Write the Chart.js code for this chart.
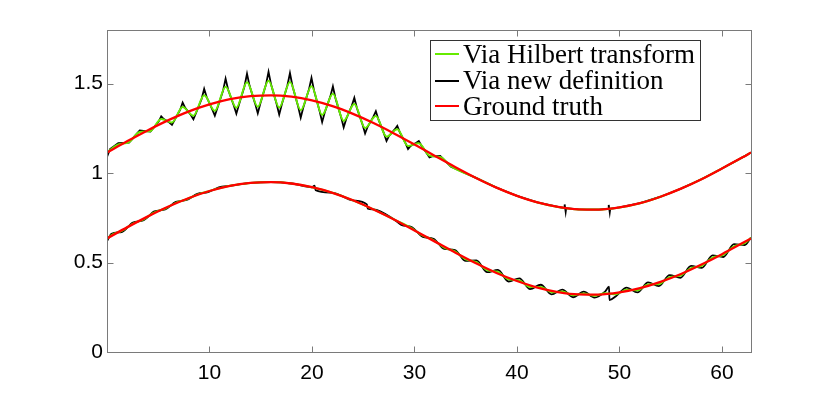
<!DOCTYPE html>
<html><head><meta charset="utf-8">
<script src="https://cdn.jsdelivr.net/npm/chart.js@4.4.1/dist/chart.umd.min.js"></script>
<style>
html,body{margin:0;padding:0;background:#fff;}
#wrap{position:relative;width:830px;height:397px;}
#legend{position:absolute;left:430px;top:40px;width:271px;height:81px;border:1px solid #333;background:#fff;box-sizing:border-box;font-family:"Liberation Serif",serif;color:#000;}
.row{position:absolute;left:0;height:26px;display:flex;align-items:center;white-space:nowrap;}
.sw{display:inline-block;width:24px;height:2px;margin-left:4px;margin-right:4px;}
</style></head><body>
<div id="wrap"><canvas id="c" width="830" height="397"></canvas><div id="legend"></div></div>
<script>
// ---- data ----
const xTicks = [10, 20, 30, 40, 50, 60];
const xTickLabels = ['10', '20', '30', '40', '50', '60'];
const yTicks = [0, 0.5, 1, 1.5];
const yTickLabels = ['0', '0.5', '1', '1.5'];
const seriesNames = ['Via Hilbert transform', 'Via new definition', 'Ground truth'];
const seriesColors = ['rgb(102,235,0)', '#000000', '#ff0000'];

// Ground truth (upper and lower), [x, y]
const upperTruth = [[0,1.115],[2,1.179],[4,1.240],[6,1.296],[8,1.345],[10,1.384],[12,1.413],[14,1.430],[16,1.435],[18,1.427],[20,1.406],[22,1.374],[24,1.331],[26,1.280],[28,1.222],[30,1.160],[32,1.096],[34,1.033],[36,0.973],[38,0.919],[40,0.873],[42,0.836],[44,0.811],[46,0.797],[48,0.796],[50,0.808],[52,0.832],[54,0.868],[56,0.913],[58,0.966],[60,1.026],[62,1.088],[62.83,1.115]];
const lowerTruth = [[0,0.635],[2,0.698],[4,0.758],[6,0.813],[8,0.861],[10,0.900],[12,0.929],[14,0.945],[16,0.950],[18,0.942],[20,0.921],[22,0.890],[24,0.848],[26,0.797],[28,0.741],[30,0.679],[32,0.617],[34,0.555],[36,0.496],[38,0.442],[40,0.397],[42,0.360],[44,0.335],[46,0.322],[48,0.321],[50,0.333],[52,0.357],[54,0.392],[56,0.436],[58,0.489],[60,0.547],[62,0.609],[62.83,0.635]];

// Via Hilbert transform (green)
const upperHilbert = [[0,1.115],[1.10,1.160],[2.15,1.173],[3.19,1.230],[4.24,1.235],[5.29,1.302],[6.34,1.283],[7.38,1.370],[8.43,1.321],[9.48,1.435],[10.52,1.348],[11.57,1.483],[12.62,1.365],[13.66,1.508],[14.71,1.371],[15.76,1.517],[16.80,1.367],[17.85,1.510],[18.90,1.351],[19.95,1.485],[20.99,1.325],[22.04,1.443],[23.09,1.292],[24.13,1.386],[25.18,1.252],[26.23,1.319],[27.27,1.204],[28.32,1.245],[29.37,1.152],[30.42,1.167],[31.46,1.098],[32.51,1.090],[33.56,1.039],[36,0.973],[38,0.919],[40,0.873],[42,0.836],[44,0.811],[46,0.797],[48,0.796],[50,0.808],[52,0.832],[54,0.868],[56,0.913],[58,0.966],[60,1.026],[62,1.088],[62.83,1.115]];
const lowerHilbert = [[0,0.632],[0.44,0.654],[1.49,0.678],[2.53,0.718],[3.58,0.742],[4.63,0.780],[5.68,0.802],[6.72,0.834],[7.77,0.854],[8.82,0.880],[9.86,0.898],[12,0.929],[14,0.945],[16,0.950],[18,0.942],[20,0.921],[22,0.890],[24,0.848],[26,0.797],[28,0.741],[29.76,0.691],[30.81,0.650],[31.85,0.626],[32.90,0.583],[33.95,0.562],[34.99,0.518],[36.04,0.502],[37.09,0.458],[38.14,0.447],[39.18,0.406],[40.23,0.400],[41.28,0.364],[42.32,0.364],[43.37,0.334],[44.42,0.338],[45.47,0.317],[46.51,0.327],[47.56,0.314],[48.61,0.329],[49.65,0.323],[50.70,0.348],[51.75,0.345],[52.79,0.377],[53.84,0.380],[54.89,0.418],[55.94,0.427],[56.98,0.469],[58.03,0.482],[59.08,0.528],[60.12,0.543],[61.17,0.591],[62.22,0.609],[62.83,0.638]];

// Via new definition (black)
const upperNewDef = [[0,1.090],[0.3,1.135],[1.10,1.168],[2.15,1.170],[3.19,1.238],[4.24,1.232],
  [5.04,1.288],[5.29,1.317],[5.54,1.302],[6.09,1.283],[6.34,1.270],[6.59,1.296],
  [7.13,1.353],[7.38,1.394],[7.63,1.365],[8.18,1.325],[8.43,1.301],[8.68,1.335],
  [9.23,1.414],[9.48,1.471],[9.73,1.424],[10.27,1.356],[10.52,1.321],[10.77,1.364],
  [11.32,1.460],[11.57,1.528],[11.82,1.466],[12.37,1.378],[12.62,1.332],[12.87,1.382],
  [13.41,1.484],[13.66,1.556],[13.91,1.488],[14.46,1.387],[14.71,1.334],[14.96,1.389],
  [15.51,1.495],[15.76,1.566],[16.01,1.495],[16.55,1.386],[16.80,1.327],[17.05,1.384],
  [17.60,1.490],[17.85,1.559],[18.10,1.486],[18.65,1.372],[18.90,1.310],[19.15,1.367],
  [19.70,1.467],[19.95,1.532],[20.20,1.461],[20.74,1.347],[20.99,1.285],[21.24,1.339],
  [21.79,1.429],[22.04,1.485],[22.29,1.419],[22.84,1.313],[23.09,1.256],[23.34,1.303],
  [23.88,1.376],[24.13,1.421],[24.38,1.364],[24.93,1.272],[25.18,1.222],[25.43,1.259],
  [25.98,1.314],[26.23,1.346],[26.48,1.300],[27.02,1.222],[27.27,1.180],[27.52,1.208],
  [28.07,1.244],[28.32,1.264],[28.57,1.228],[29.12,1.168],[29.37,1.135],[29.62,1.152],
  [30.17,1.170],[30.42,1.179],[30.67,1.154],[31.21,1.110],[31.46,1.088],[31.71,1.094],
  [32.51,1.096],[33.56,1.035],[36,0.973],[38,0.919],[40,0.873],[42,0.836],[44,0.811],
  [44.6,0.805],[44.65,0.825],[44.75,0.783],[44.8,0.804],[46,0.797],[48,0.796],
  [48.9,0.801],[48.95,0.822],[49.05,0.780],[49.1,0.801],[50,0.808],[52,0.832],[54,0.868],[56,0.913],[58,0.966],[60,1.026],[62,1.088],[62.83,1.115]];
const lowerNewDef = [[0,0.620],[0.44,0.661],[1.49,0.672],[2.53,0.724],[3.58,0.737],[4.63,0.786],[5.68,0.797],[6.72,0.839],[7.77,0.850],[8.82,0.884],[9.86,0.893],[10.91,0.920],[12,0.929],[14,0.945],[16,0.950],[18,0.942],[20,0.921],[20.25,0.930],[20.35,0.905],[22,0.890],[24,0.848],[25.35,0.825],[25.45,0.801],[26,0.797],[28,0.741],[28.71,0.711],[29.76,0.697],[30.81,0.644],[31.85,0.633],[32.90,0.576],[33.95,0.570],[34.99,0.509],[36.04,0.512],[37.09,0.446],[38.14,0.459],[39.18,0.394],[40.23,0.412],[41.28,0.352],[42.32,0.376],[43.37,0.322],[44.42,0.349],[45.47,0.306],[46.51,0.337],[47.56,0.304],[48.61,0.339],[48.98,0.365],[49.02,0.290],[49.65,0.312],[50.70,0.360],[51.75,0.333],[52.79,0.389],[53.84,0.368],[54.89,0.430],[55.94,0.415],[56.98,0.481],[58.03,0.470],[59.08,0.540],[60.12,0.531],[61.17,0.603],[62.22,0.598],[62.83,0.640]];

// ---- chart ----
const pts = arr => arr.map(p => ({x: p[0], y: p[1]}));
function ds(label, arr, color, width, order, smooth) {
  return {label, data: pts(arr), borderColor: color, backgroundColor: color, borderWidth: width,
    pointRadius: 0, fill: false, order,
    tension: smooth ? 0.4 : 0, cubicInterpolationMode: smooth ? 'monotone' : 'default'};
}

const framePlugin = {
  id: 'frame',
  afterDatasetsDraw(chart) {
    const {ctx, chartArea: a, scales: {x, y}} = chart;
    const L = Math.round(a.left) + 0.5, R = Math.round(a.right) + 0.5;
    const T = Math.round(a.top) + 0.5, B = Math.round(a.bottom) + 0.5;
    ctx.save();
    ctx.strokeStyle = '#7a7a7a';
    ctx.lineWidth = 1;
    ctx.strokeRect(L, T, R - L, B - T);
    ctx.beginPath();
    xTicks.forEach(v => {
      const px = Math.round(x.getPixelForValue(v)) + 0.5;
      ctx.moveTo(px, B); ctx.lineTo(px, B - 6);
      ctx.moveTo(px, T); ctx.lineTo(px, T + 6);
    });
    yTicks.forEach(v => {
      const py = Math.round(y.getPixelForValue(v)) + 0.5;
      ctx.moveTo(L, py); ctx.lineTo(L + 6, py);
      ctx.moveTo(R, py); ctx.lineTo(R - 6, py);
    });
    ctx.stroke();
    ctx.restore();
  }
};

const tickFont = {family: '"Liberation Sans", Arial, sans-serif', size: 21};

new Chart(document.getElementById('c').getContext('2d'), {
  type: 'line',
  data: {datasets: [
    ds(seriesNames[2], upperTruth, seriesColors[2], 2.3, 0, true),
    ds(seriesNames[2], lowerTruth, seriesColors[2], 2.3, 0, true),
    ds(seriesNames[0], upperHilbert, seriesColors[0], 2, 1, true),
    ds(seriesNames[0], lowerHilbert, seriesColors[0], 2, 1, true),
    ds(seriesNames[1], upperNewDef, seriesColors[1], 1.8, 2, false),
    ds(seriesNames[1], lowerNewDef, seriesColors[1], 1.8, 2, true)
  ]},
  options: {
    responsive: false,
    animation: false,
    devicePixelRatio: 1,
    layout: {padding: {left: 0, right: 79, top: 30, bottom: 0}},
    plugins: {legend: {display: false}, tooltip: {enabled: false}},
    scales: {
      x: {
        type: 'linear', min: 0, max: 62.83,
        afterBuildTicks: s => { s.ticks = xTicks.map(v => ({value: v})); },
        afterFit: s => { s.height = 45; },
        grid: {display: false, drawTicks: false},
        border: {display: false},
        ticks: {callback: (v, i) => xTickLabels[i], font: tickFont, color: '#000', padding: 9, maxRotation: 0, autoSkip: false}
      },
      y: {
        type: 'linear', min: 0, max: 1.8,
        afterBuildTicks: s => { s.ticks = yTicks.map(v => ({value: v})); },
        afterFit: s => { s.width = 107; },
        grid: {display: false, drawTicks: false},
        border: {display: false},
        ticks: {callback: (v, i) => yTickLabels[i], font: tickFont, color: '#000', padding: 4, autoSkip: false}
      }
    }
  },
  plugins: [framePlugin]
});

// ---- legend (HTML text) ----
const legend = document.getElementById('legend');
const rowCenters = [13, 39.5, 65];
const spans = [];
seriesNames.forEach((name, i) => {
  const row = document.createElement('div');
  row.className = 'row';
  row.style.top = (rowCenters[i] - 13) + 'px';
  const sw = document.createElement('span');
  sw.className = 'sw';
  sw.style.background = seriesColors[i];
  const t = document.createElement('span');
  t.textContent = name;
  t.style.fontSize = '24px';
  row.appendChild(sw); row.appendChild(t);
  legend.appendChild(row);
  spans.push(t);
});
const w0 = spans[0].getBoundingClientRect().width;
const fs = 24 * 232 / w0;
spans.forEach(s => { s.style.fontSize = fs.toFixed(2) + 'px'; });
</script>
</body></html>
